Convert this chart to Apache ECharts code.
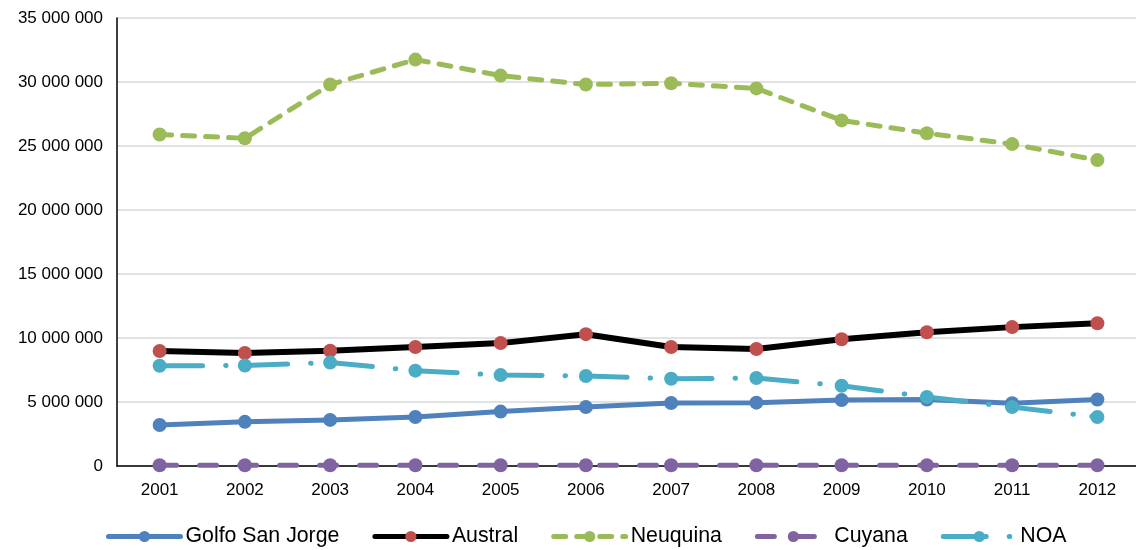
<!DOCTYPE html>
<html>
<head>
<meta charset="utf-8">
<script src="https://cdn.jsdelivr.net/npm/echarts@6/dist/echarts.min.js"></script>
<style>
html,body{margin:0;padding:0;background:#fff;}
#chart{width:1136px;height:550px;}
</style>
</head>
<body>
<div id="chart"></div>
<script>
const years = ['2001','2002','2003','2004','2005','2006','2007','2008','2009','2010','2011','2012'];
const golfoSanJorge = [3200000, 3450000, 3600000, 3830000, 4250000, 4600000, 4920000, 4950000, 5150000, 5200000, 4900000, 5200000];
const austral = [8980000, 8830000, 9000000, 9300000, 9600000, 10300000, 9300000, 9140000, 9900000, 10450000, 10850000, 11150000];
const neuquina = [25900000, 25600000, 29800000, 31750000, 30500000, 29800000, 29900000, 29500000, 27000000, 26000000, 25150000, 23900000];
const cuyana = [60000, 60000, 60000, 60000, 60000, 60000, 60000, 60000, 60000, 60000, 60000, 60000];
const noa = [7830000, 7850000, 8080000, 7450000, 7100000, 7030000, 6820000, 6870000, 6270000, 5400000, 4600000, 3830000];
const seriesNames = ['Golfo San Jorge', 'Austral', 'Neuquina', 'Cuyana', 'NOA'];

const fmt = v => String(v).replace(/\B(?=(\d{3})+(?!\d))/g, ' ');
const font = 'Liberation Sans, Arial, sans-serif';

function mk(name, data, lineColor, markColor, width, type) {
  return {
    name: name, type: 'line', data: data,
    symbol: 'circle', symbolSize: 14,
    itemStyle: { color: markColor },
    lineStyle: { color: lineColor, width: width, type: type, cap: 'round', join: 'round' },
    emphasis: { disabled: true },
    animation: false
  };
}

const chart = echarts.init(document.getElementById('chart'), null, { renderer: 'canvas' });
chart.setOption({
  animation: false,
  textStyle: { fontFamily: font },
  grid: { left: 117, top: 18, width: 1023, height: 448, containLabel: false, outerBoundsMode: 'none' },
  legend: {
    data: seriesNames,
    left: 106, top: 526, padding: 0,
    itemWidth: 72, itemHeight: 14, itemGap: 33,
    lineStyle: { width: 5 },
    textStyle: { fontSize: 21.3, color: '#000', fontFamily: font }
  },
  xAxis: {
    type: 'category', data: years, boundaryGap: true,
    axisLine: { lineStyle: { color: '#000', width: 1.5 } },
    axisTick: { show: false },
    axisLabel: { fontSize: 17, color: '#000', margin: 16, fontFamily: font },
    splitLine: { show: false }
  },
  yAxis: {
    type: 'value', min: 0, max: 35000000, interval: 5000000,
    axisLine: { show: true, lineStyle: { color: '#000', width: 1.5 } },
    axisTick: { show: false },
    axisLabel: { fontSize: 17, color: '#000', margin: 14, formatter: fmt, fontFamily: font },
    splitLine: { lineStyle: { color: '#d9d9d9', width: 1.5 } }
  },
  series: [
    mk(seriesNames[0], golfoSanJorge, '#4F81BD', '#4F81BD', 5, 'solid'),
    mk(seriesNames[1], austral, '#000000', '#C0504D', 6, 'solid'),
    mk(seriesNames[2], neuquina, '#9BBB59', '#9BBB59', 5, [12, 11]),
    mk(seriesNames[3], cuyana, '#8064A2', '#8064A2', 5, [17, 23]),
    mk(seriesNames[4], noa, '#4BACC6', '#4BACC6', 5, [43, 23, 0.5, 18.5])
  ]
});
</script>
</body>
</html>
